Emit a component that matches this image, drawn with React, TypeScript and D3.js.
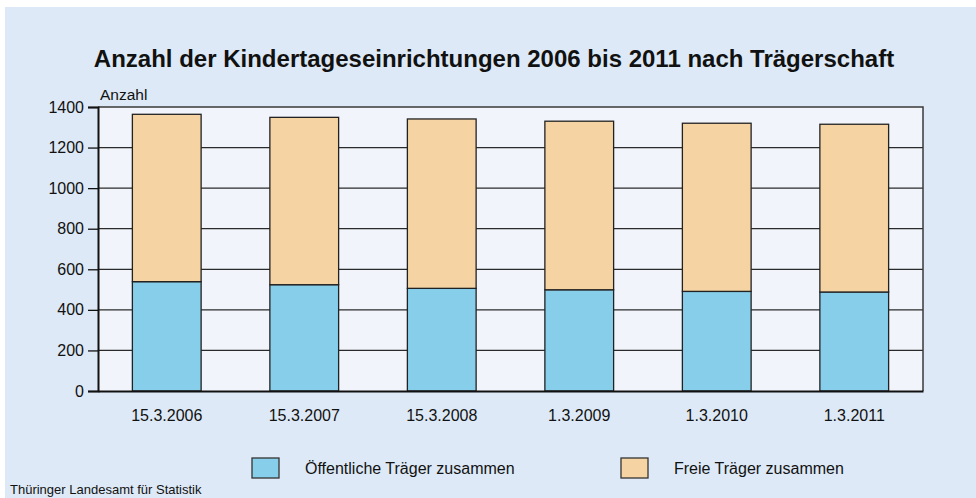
import { useEffect, useRef } from 'react';
import * as d3 from 'd3';

const CATEGORIES = ['15.3.2006', '15.3.2007', '15.3.2008', '1.3.2009', '1.3.2010', '1.3.2011'];
const OEFFENTLICH = [539, 524, 506, 499, 491, 488];
const FREI_TOTAL = [1364, 1349, 1341, 1330, 1320, 1315];
const FREI = FREI_TOTAL.map((t, i) => t - OEFFENTLICH[i]);
const Y_TICKS = [0, 200, 400, 600, 800, 1000, 1200, 1400];
const SERIES = [
  { key: 'oeff', label: 'Öffentliche Träger zusammen', color: '#87ceeb', values: OEFFENTLICH },
  { key: 'frei', label: 'Freie Träger zusammen', color: '#f5d3a2', values: FREI },
];

const W = 976;
const H = 498;
const FONT = '"Liberation Sans", Arial, sans-serif';

export default function App() {
  const svgRef = useRef<SVGSVGElement | null>(null);

  useEffect(() => {
    if (!svgRef.current) return;
    const svg = d3.select(svgRef.current);
    svg.selectAll('*').remove();

    const x0 = 98;
    const x1 = 923;
    const x = d3.scaleBand<string>()
      .domain(CATEGORIES)
      .range([x0, x1])
      .paddingInner(0.5)
      .paddingOuter(0.25);
    const y = d3.scaleLinear().domain([0, 1400]).range([391, 107]);

    // panel
    svg.append('rect').attr('width', W).attr('height', H).attr('fill', '#ffffff');
    svg.append('rect').attr('x', 5).attr('y', 7).attr('width', W - 5).attr('height', H - 7).attr('fill', '#dde9f6');

    // title
    svg.append('text')
      .attr('x', 494).attr('y', 67)
      .attr('text-anchor', 'middle')
      .attr('font-family', FONT).attr('font-size', 24).attr('font-weight', 'bold')
      .attr('fill', '#111')
      .text('Anzahl der Kindertageseinrichtungen 2006 bis 2011 nach Trägerschaft');

    // plot background
    svg.append('rect')
      .attr('x', x0).attr('y', y(1400))
      .attr('width', x1 - x0).attr('height', y(0) - y(1400))
      .attr('fill', '#f1f5fb');

    // gridlines
    svg.append('g').selectAll('line')
      .data(Y_TICKS.filter(t => t > 0 && t < 1400))
      .enter().append('line')
      .attr('x1', x0).attr('x2', x1)
      .attr('y1', d => y(d)).attr('y2', d => y(d))
      .attr('stroke', '#2a2a2a').attr('stroke-width', 1.2);

    // top & right border
    svg.append('path')
      .attr('d', `M${x0},${y(1400)}H${x1}V${y(0)}`)
      .attr('fill', 'none').attr('stroke', '#3a3a3a').attr('stroke-width', 1.5);

    // bars
    const stack = d3.stack<number>()
      .keys(SERIES.map(s => s.key))
      .value((i, key) => SERIES.find(s => s.key === key)!.values[i]);
    const stacked = stack(CATEGORIES.map((_, i) => i));

    stacked.forEach((layer, li) => {
      svg.append('g').selectAll('rect')
        .data(layer)
        .enter().append('rect')
        .attr('x', (_, i) => x(CATEGORIES[i])!)
        .attr('width', x.bandwidth())
        .attr('y', d => y(d[1]))
        .attr('height', d => y(d[0]) - y(d[1]))
        .attr('fill', SERIES[li].color)
        .attr('stroke', '#222').attr('stroke-width', 1.3);
    });

    // y axis
    const yAxis = svg.append('g').attr('transform', `translate(${x0},0)`)
      .call(d3.axisLeft(y).tickValues(Y_TICKS).tickSize(10).tickPadding(4).tickFormat(d3.format('d')));
    yAxis.select('.domain').attr('stroke', '#111').attr('stroke-width', 2);
    yAxis.selectAll('.tick line').attr('stroke', '#111').attr('stroke-width', 1.3);
    yAxis.selectAll('.tick text')
      .attr('font-family', FONT).attr('font-size', 16).attr('fill', '#111');

    // x axis
    const xAxis = svg.append('g').attr('transform', `translate(0,${y(0)})`)
      .call(d3.axisBottom(x).tickSize(0).tickPadding(19));
    xAxis.select('.domain').attr('stroke', '#111').attr('stroke-width', 2);
    xAxis.selectAll('.tick text')
      .attr('font-family', FONT).attr('font-size', 16).attr('fill', '#111');

    // axis label
    svg.append('text')
      .attr('x', 100).attr('y', 100)
      .attr('font-family', FONT).attr('font-size', 15.5).attr('fill', '#111')
      .text('Anzahl');

    // legend
    const legendX = [252, 621];
    SERIES.forEach((s, i) => {
      const g = svg.append('g').attr('transform', `translate(${legendX[i]},458)`);
      g.append('rect').attr('width', 27).attr('height', 20)
        .attr('fill', s.color).attr('stroke', '#333').attr('stroke-width', 1.3);
      g.append('text')
        .attr('x', 53).attr('y', 16)
        .attr('font-family', FONT).attr('font-size', 16).attr('fill', '#111')
        .text(s.label);
    });

    // source
    svg.append('text')
      .attr('x', 10).attr('y', 494)
      .attr('font-family', FONT).attr('font-size', 13).attr('fill', '#111')
      .text('Thüringer Landesamt für Statistik');
  }, []);

  return (
    <div style={{ position: 'absolute', left: 0, top: 0 }}>
      <svg ref={svgRef} width={W} height={H} style={{ display: 'block' }} />
    </div>
  );
}
